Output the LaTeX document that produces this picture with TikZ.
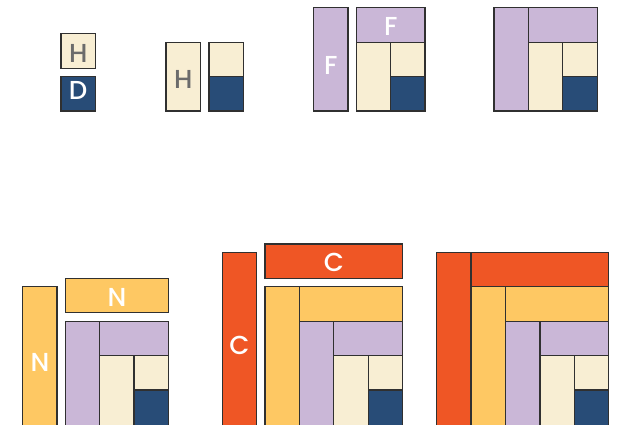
\documentclass[tikz,border=0pt]{standalone}
\usepackage{fontspec}
\setmainfont{Poppins}
\newfontfamily\labfont{Poppins Medium}
\definecolor{cream}{HTML}{F8EED3}
\definecolor{navy}{HTML}{284C77}
\definecolor{lilac}{HTML}{CAB7D7}
\definecolor{sun}{HTML}{FEC863}
\definecolor{flame}{HTML}{EF5625}
\definecolor{edge}{HTML}{303030}
\definecolor{lettergray}{HTML}{6B6B6B}
\tikzset{
  piece/.style={draw=edge, line width=1.3pt, line join=miter},
  lab/.style={anchor=base, inner sep=0pt, font=\labfont\fontsize{26}{26}\selectfont, text=white},
  labgray/.style={lab, text=lettergray}
}
\begin{document}
\begin{tikzpicture}[x=1pt,y=-1pt]
\useasboundingbox (0,0) rectangle (618,424);
% ---- top row ----
% group 1
\draw[piece, fill=cream] (61,33.6) rectangle (95.4,68.2);
\draw[piece, fill=navy] (61,76.6) rectangle (95.4,111);
\node[labgray] (h1) at (78.2,62) {H};
\node[lab] (d1) at (78.2,99.7) {D};
% group 2
\draw[piece, fill=cream] (166,42.2) rectangle (200.4,111);
\draw[piece, fill=cream] (209,42.2) rectangle (243.4,76.6);
\draw[piece, fill=navy] (209,76.6) rectangle (243.4,111);
\node[labgray] (h2) at (183.2,88.3) {H};
% group 3
\draw[piece, fill=lilac] (313.5,7.8) rectangle (347.9,111);
\draw[piece, fill=lilac] (356.3,7.8) rectangle (425.1,42.2);
\draw[piece, fill=cream] (356.3,42.2) rectangle (390.7,111);
\draw[piece, fill=cream] (390.7,42.2) rectangle (425.1,76.6);
\draw[piece, fill=navy] (390.7,76.6) rectangle (425.1,111);
\node[lab] (f1) at (330.7,74) {F};
\node[lab] (f2) at (390.7,35.7) {F};
% group 4
\draw[piece, fill=lilac] (494,7.8) rectangle (528.4,111);
\draw[piece, fill=lilac] (528.4,7.8) rectangle (597.2,42.2);
\draw[piece, fill=cream] (528.4,42.2) rectangle (562.8,111);
\draw[piece, fill=cream] (562.8,42.2) rectangle (597.2,76.6);
\draw[piece, fill=navy] (562.8,76.6) rectangle (597.2,111);
% ---- bottom row ----
% group 5
\draw[piece, fill=sun] (22.7,286.8) rectangle (57.1,432);
\draw[piece, fill=sun] (65.3,278.3) rectangle (168.5,312.7);
\draw[piece, fill=lilac] (65.3,321.2) rectangle (99.7,432);
\draw[piece, fill=lilac] (99.7,321.2) rectangle (168.5,355.6);
\draw[piece, fill=cream] (99.7,355.6) rectangle (134.1,432);
\draw[piece, fill=cream] (134.1,355.6) rectangle (168.5,390);
\draw[piece, fill=navy] (134.1,390) rectangle (168.5,432);
\node[lab] (n1) at (39.9,371) {N};
\node[lab] (n2) at (116.9,306.7) {N};
% group 6
\draw[piece, fill=flame] (222.3,252.4) rectangle (256.7,432);
\draw[piece, fill=flame] (265,244) rectangle (402.6,278.4);
\draw[piece, fill=sun] (265,286.8) rectangle (299.4,432);
\draw[piece, fill=sun] (299.4,286.8) rectangle (402.6,321.2);
\draw[piece, fill=lilac] (299.4,321.2) rectangle (333.8,432);
\draw[piece, fill=lilac] (333.8,321.2) rectangle (402.6,355.6);
\draw[piece, fill=cream] (333.8,355.6) rectangle (368.2,432);
\draw[piece, fill=cream] (368.2,355.6) rectangle (402.6,390);
\draw[piece, fill=navy] (368.2,390) rectangle (402.6,432);
\node[lab] (c1) at (239.5,354) {C};
\node[lab] (c2) at (333.8,271.3) {C};
% group 7
\draw[piece, fill=flame] (436.7,252.4) rectangle (471.1,432);
\draw[piece, fill=flame] (471.1,252.4) rectangle (608.7,286.8);
\draw[piece, fill=sun] (471.1,286.8) rectangle (505.5,432);
\draw[piece, fill=sun] (505.5,286.8) rectangle (608.7,321.2);
\draw[piece, fill=lilac] (505.5,321.2) rectangle (539.9,432);
\draw[piece, fill=lilac] (539.9,321.2) rectangle (608.7,355.6);
\draw[piece, fill=cream] (539.9,355.6) rectangle (574.3,432);
\draw[piece, fill=cream] (574.3,355.6) rectangle (608.7,390);
\draw[piece, fill=navy] (574.3,390) rectangle (608.7,432);
\end{tikzpicture}
\end{document}
